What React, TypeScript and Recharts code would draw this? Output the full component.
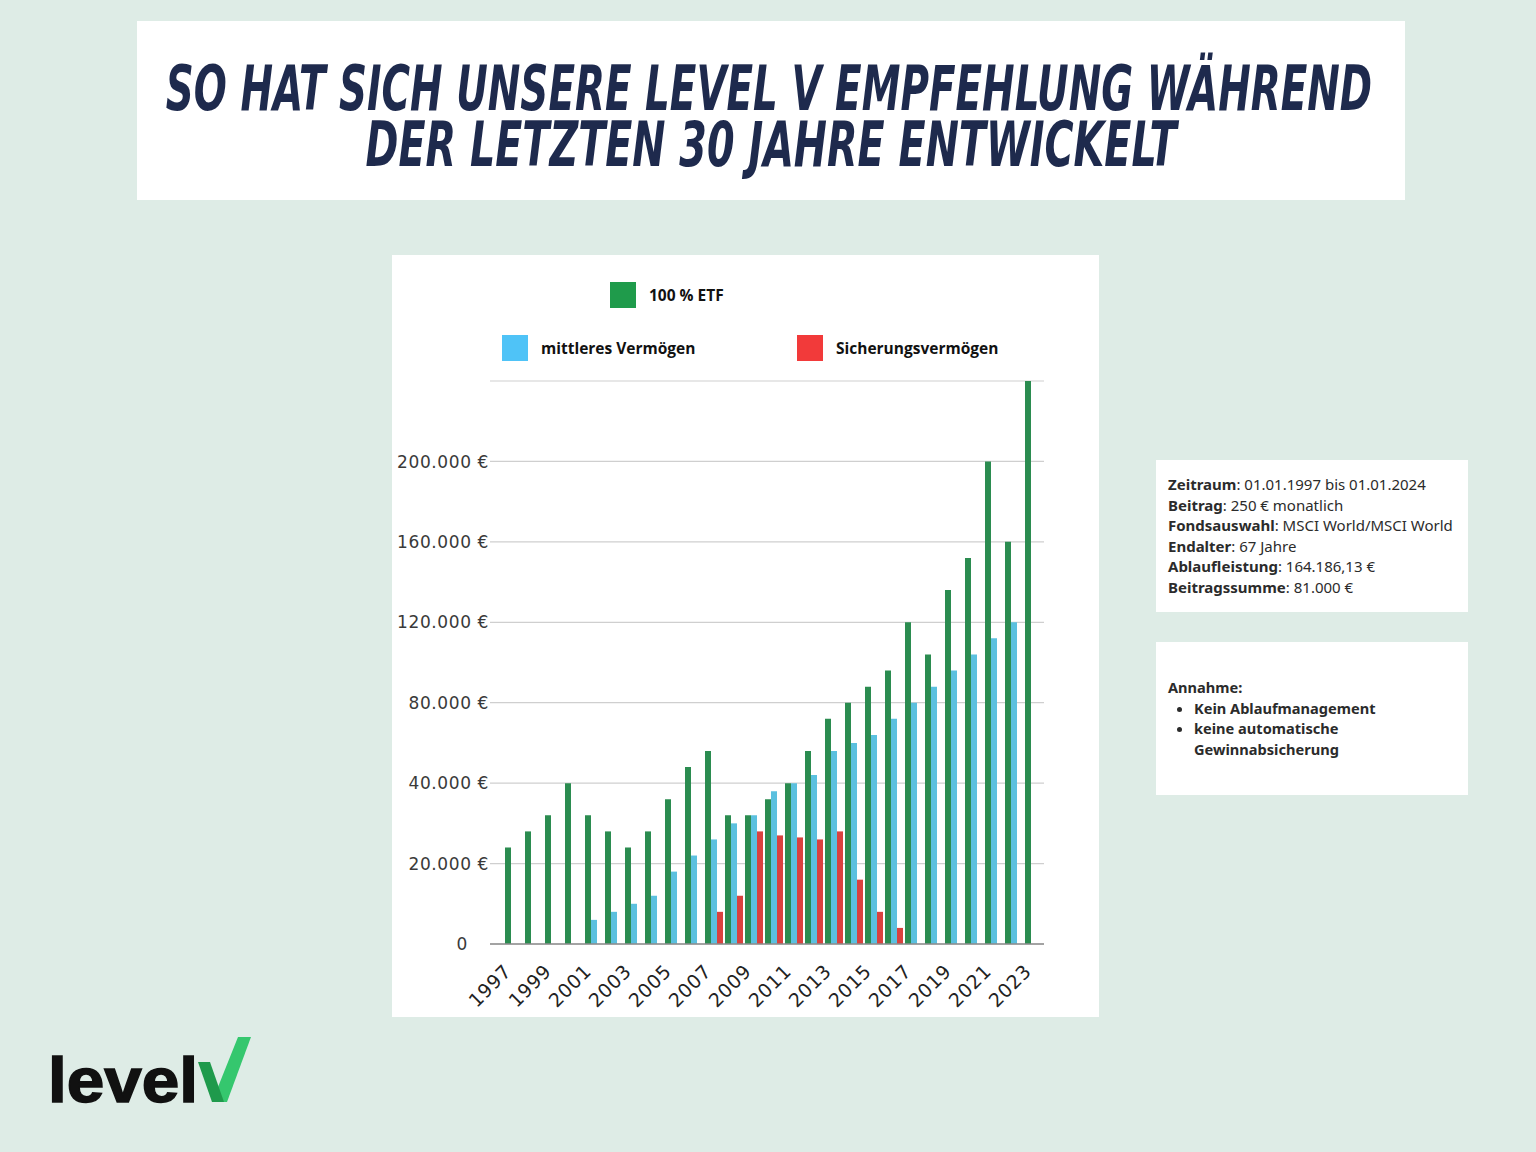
import React, { useLayoutEffect, useRef, useState } from "react";
import {
  BarChart,
  Bar,
  XAxis,
  YAxis,
  CartesianGrid,
  Legend,
} from "recharts";

// Kategorien (Jahre)
const YEARS = [
  1997, 1998, 1999, 2000, 2001, 2002, 2003, 2004, 2005, 2006, 2007, 2008, 2009,
  2010, 2011, 2012, 2013, 2014, 2015, 2016, 2017, 2018, 2019, 2020, 2021, 2022,
  2023,
];

// 100 % ETF
const ETF = [
  24000, 28000, 32000, 40000, 32000, 28000, 24000, 28000, 36000, 44000, 48000,
  32000, 32000, 36000, 40000, 48000, 56000, 60000, 64000, 68000, 80000, 72000,
  88000, 96000, 120000, 100000, 140000,
];

// mittleres Vermögen
const MITTEL = [
  null, null, null, null, 6000, 8000, 10000, 12000, 18000, 22000, 26000, 30000,
  32000, 38000, 40000, 42000, 48000, 50000, 52000, 56000, 60000, 64000, 68000,
  72000, 76000, 80000, null,
];

// Sicherungsvermögen
const SICHERUNG = [
  null, null, null, null, null, null, null, null, null, null, 8000, 12000,
  28000, 27000, 26500, 26000, 28000, 16000, 8000, 4000, null, null, null, null,
  null, null, null,
];

// Achsenbeschriftung wie im Original (Gitterlinien gleichmäßig verteilt)
const Y_TICKS = [0, 20000, 40000, 60000, 80000, 100000, 120000, 140000];
const Y_TICK_LABELS = [
  "0",
  "20.000 €",
  "40.000 €",
  "80.000 €",
  "120.000 €",
  "160.000 €",
  "200.000 €",
  "",
];

const SERIES = [
  { key: "etf", name: "100 % ETF", fill: "#2b8c50", legend: "#1f9b4b" },
  { key: "mittel", name: "mittleres Vermögen", fill: "#5bc0df", legend: "#4fc3f7" },
  { key: "sicherung", name: "Sicherungsvermögen", fill: "#d9423f", legend: "#f23a3a" },
];

const data = YEARS.map((year, i) => ({
  year,
  etf: ETF[i],
  mittel: MITTEL[i],
  sicherung: SICHERUNG[i],
}));

const LEGEND_POS: Record<string, { left: number; top: number }> = {
  etf: { left: 218, top: 27 },
  mittel: { left: 110, top: 80 },
  sicherung: { left: 405, top: 80 },
};

const YTick = ({ x, y, payload }: any) => {
  const i = Y_TICKS.indexOf(payload.value);
  const label = Y_TICK_LABELS[i] ?? "";
  const shift = payload.value === 0 ? -21 : 0;
  return (
    <text
      x={x + shift}
      y={y}
      dy="0.36em"
      textAnchor="end"
      fill="#3a3a3a"
      fontSize={17}
      fontFamily="'DejaVu Sans', sans-serif"
      letterSpacing={0.6}
    >
      {label}
    </text>
  );
};

const XTick = ({ x, y, payload }: any) => {
  const tx = x - 11;
  return (
    <text
      x={tx}
      y={y}
      dy="0.71em"
      textAnchor="end"
      fill="#222"
      fontSize={19}
      fontFamily="'DejaVu Sans', sans-serif"
      letterSpacing={0.6}
      transform={`rotate(-45, ${tx}, ${y})`}
    >
      {payload.value}
    </text>
  );
};

const renderLegend = () => (
  <div style={{ position: "relative", width: 707, height: 110 }}>
    {SERIES.map((s) => (
      <div
        key={s.key}
        style={{
          position: "absolute",
          left: LEGEND_POS[s.key].left,
          top: LEGEND_POS[s.key].top,
          display: "flex",
          alignItems: "center",
          whiteSpace: "nowrap",
        }}
      >
        <span
          style={{
            display: "inline-block",
            width: 26,
            height: 26,
            background: s.legend,
            marginRight: 13,
          }}
        />
        <span
          style={{
            fontFamily: "'Open Sans', sans-serif",
            fontWeight: 700,
            fontSize: 15.5,
            color: "#111",
          }}
        >
          {s.name}
        </span>
      </div>
    ))}
  </div>
);

// Titelzeile, horizontal auf eine feste Breite gestaucht
const TitleLine = ({ text, cx, top, width }: any) => {
  const ref = useRef<HTMLSpanElement>(null);
  const [k, setK] = useState(1);
  useLayoutEffect(() => {
    if (ref.current) setK(width / ref.current.offsetWidth);
  }, [text, width]);
  return (
    <div style={{ position: "absolute", left: cx, top }}>
      <span
        ref={ref}
        style={{
          display: "inline-block",
          whiteSpace: "nowrap",
          fontFamily: "'DejaVu Sans Condensed', 'DejaVu Sans', sans-serif",
          fontWeight: 700,
          fontStyle: "italic",
          fontSize: 62,
          lineHeight: "56px",
          color: "#1e2a4d",
          transformOrigin: "50% 50%",
          transform: `translateX(-50%) scaleX(${k})`,
        }}
      >
        {text}
      </span>
    </div>
  );
};

const infoLine = (label: string, value: string) => (
  <div>
    <b style={{ fontWeight: 700 }}>{label}</b>: {value}
  </div>
);

const App: React.FC = () => {
  return (
    <div
      style={{
        position: "absolute",
        left: 0,
        top: 0,
        width: 1536,
        height: 1152,
        background: "#deece6",
        overflow: "hidden",
        fontFamily: "'Noto Sans', sans-serif",
      }}
    >
      {/* Titel */}
      <div
        style={{
          position: "absolute",
          left: 137,
          top: 21,
          width: 1268,
          height: 179,
          background: "#fff",
        }}
      >
        <TitleLine
          text="SO HAT SICH UNSERE LEVEL V EMPFEHLUNG WÄHREND"
          cx={632}
          top={40}
          width={1206}
        />
        <TitleLine
          text="DER LETZTEN 30 JAHRE ENTWICKELT"
          cx={634}
          top={96}
          width={811}
        />
      </div>

      {/* Diagramm */}
      <div
        style={{
          position: "absolute",
          left: 392,
          top: 255,
          width: 707,
          height: 762,
          background: "#fff",
        }}
      >
        <BarChart
          width={707}
          height={762}
          data={data}
          margin={{ top: 126, right: 55, bottom: 13, left: 0 }}
          barGap={0}
        >
          <CartesianGrid vertical={false} stroke="#cfcfcf" strokeWidth={1.2} />
          <XAxis
            dataKey="year"
            interval={1}
            height={60}
            padding={{ left: 14, right: 0 }}
            tickLine={false}
            tickSize={0}
            tickMargin={19}
            axisLine={{ stroke: "#8c8c8c", strokeWidth: 1.5 }}
            tick={<XTick />}
          />
          <YAxis
            width={98}
            domain={[0, 140000]}
            ticks={Y_TICKS}
            interval={0}
            axisLine={false}
            tickLine={false}
            tickSize={0}
            tickMargin={1}
            tick={<YTick />}
          />
          <Legend
            verticalAlign="middle"
            align="center"
            layout="horizontal"
            wrapperStyle={{ top: 0, left: 0, width: 707, height: 110 }}
            content={renderLegend}
          />
          {SERIES.map((s) => (
            <Bar
              key={s.key}
              dataKey={s.key}
              name={s.name}
              fill={s.fill}
              barSize={6}
              isAnimationActive={false}
            />
          ))}
        </BarChart>
      </div>

      {/* Info-Box 1 */}
      <div
        style={{
          position: "absolute",
          left: 1156,
          top: 460,
          width: 312,
          height: 152,
          background: "#fff",
          boxSizing: "border-box",
          padding: "14px 0 0 12px",
          fontSize: 15,
          lineHeight: "20.5px",
          color: "#2b2b2b",
          whiteSpace: "nowrap",
        }}
      >
        {infoLine("Zeitraum", "01.01.1997 bis 01.01.2024")}
        {infoLine("Beitrag", "250 € monatlich")}
        {infoLine("Fondsauswahl", "MSCI World/MSCI World")}
        {infoLine("Endalter", "67 Jahre")}
        {infoLine("Ablaufleistung", "164.186,13 €")}
        {infoLine("Beitragssumme", "81.000 €")}
      </div>

      {/* Info-Box 2 */}
      <div
        style={{
          position: "absolute",
          left: 1156,
          top: 642,
          width: 312,
          height: 153,
          background: "#fff",
          boxSizing: "border-box",
          padding: "35px 0 0 12px",
          fontSize: 14.6,
          lineHeight: "20.5px",
          color: "#2b2b2b",
          fontWeight: 700,
        }}
      >
        <div>Annahme:</div>
        <ul style={{ margin: 0, paddingLeft: 26 }}>
          <li>Kein Ablaufmanagement</li>
          <li>
            keine automatische
            <br />
            Gewinnabsicherung
          </li>
        </ul>
      </div>

      {/* Logo */}
      <svg
        width={300}
        height={100}
        style={{ position: "absolute", left: 0, top: 1020 }}
      >
        <text
          x={48}
          y={82}
          textLength={150}
          lengthAdjust="spacingAndGlyphs"
          fontFamily="'Liberation Sans', Arial, sans-serif"
          fontWeight={700}
          fontSize={63}
          fill="#111"
          stroke="#111"
          strokeWidth={1.5}
        >
          level
        </text>
        <polygon points="238,17 251,17 227,82 212,82" fill="#35c76e" />
        <polygon points="198,42 210,42 224,82 212,82" fill="#1f9a4c" />
      </svg>
    </div>
  );
};

export default App;
